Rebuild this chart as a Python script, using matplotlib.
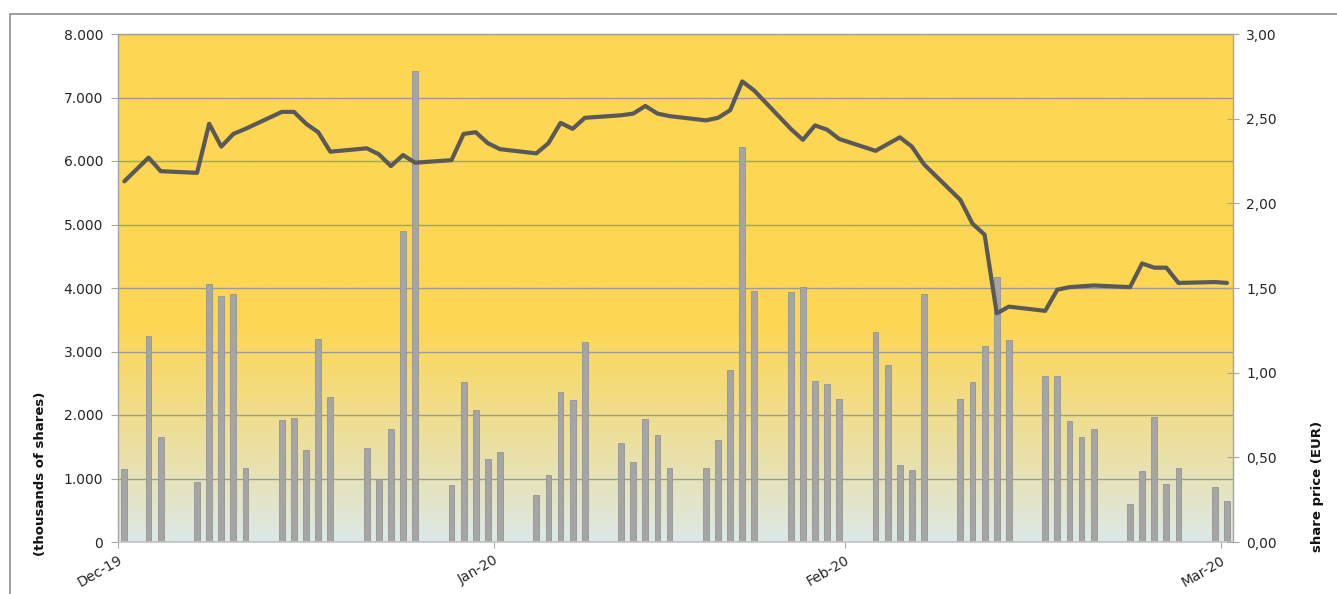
import numpy as np
import matplotlib
matplotlib.use('Agg')
import matplotlib.pyplot as plt
from matplotlib.ticker import FuncFormatter, MultipleLocator, FixedLocator
from matplotlib.patches import Rectangle

# ---------------- data ----------------
trading_day = [0, 2, 3, 6, 7, 8, 9, 10, 13, 14, 15, 16, 17, 20, 21, 22, 23, 24,
               27, 28, 29, 30, 31, 34, 35, 36, 37, 38, 41, 42, 43, 44, 45,
               48, 49, 50, 51, 52, 55, 56, 57, 58, 59, 62, 63, 64, 65, 66,
               69, 70, 71, 72, 73, 76, 77, 78, 79, 80, 83, 84, 85, 86, 87, 90, 91]

volume_k = [1150, 3250, 1660, 940, 4070, 3870, 3900, 1160, 1920, 1950, 1450, 3200, 2290,
            1485, 1000, 1775, 4900, 7420,
            900, 2525, 2075, 1300, 1420, 740, 1055, 2360, 2240, 3145,
            1565, 1260, 1935, 1690, 1160,
            1170, 1600, 2710, 6225, 3960, 3940, 4010, 2535, 2490, 2250,
            3305, 2790, 1210, 1135, 3900,
            2250, 2515, 3090, 4180, 3180, 2615, 2615, 1910, 1660, 1785,
            595, 1115, 1970, 920, 1160, 865, 650]

share_price = [2.13, 2.27, 2.19, 2.18, 2.47, 2.335, 2.41, 2.44, 2.54, 2.54, 2.47, 2.42, 2.305,
               2.325, 2.29, 2.22, 2.285, 2.24,
               2.255, 2.41, 2.42, 2.355, 2.32, 2.295, 2.355, 2.475, 2.44, 2.505,
               2.52, 2.53, 2.575, 2.53, 2.515,
               2.49, 2.505, 2.55, 2.72, 2.665, 2.44, 2.375, 2.46, 2.435, 2.38,
               2.31, 2.35, 2.39, 2.335, 2.23,
               2.02, 1.88, 1.815, 1.35, 1.39, 1.365, 1.49, 1.505, 1.51, 1.515,
               1.505, 1.645, 1.62, 1.62, 1.53, 1.535, 1.53]

month_tick_pos = [-0.5, 30.5, 59.5, 90.5]
month_labels = ['Dec-19', 'Jan-20', 'Feb-20', 'Mar-20']

# ---------------- figure ----------------
plt.rcParams['font.family'] = ['DejaVu Sans']
W, H = 1337, 594
fig = plt.figure(figsize=(W / 100, H / 100), dpi=100)
fig.patch.set_facecolor('white')

L, R, T, B = 118.3, 1233, 34, 542
ax = fig.add_axes([L / W, 1 - B / H, (R - L) / W, (B - T) / H])

# gradient background
yellow = np.array([253, 214, 83]) / 255
pale = np.array([219, 233, 234]) / 255
n = 400
t = np.linspace(0, 1, n)  # 0 bottom -> 1 top
frac = np.clip(t / 0.43, 0, 1) ** 0.9
cols = pale[None, :] * (1 - frac[:, None]) + yellow[None, :] * frac[:, None]
img = cols[::-1][:, None, :]
ax.imshow(img, extent=[0, 1, 0, 1], transform=ax.transAxes, aspect='auto',
          zorder=0, interpolation='bilinear')
ax.patch.set_visible(False)

ax.bar(trading_day, volume_k, width=0.48, color='#A5A5A5', edgecolor='#949494',
       linewidth=0.6, zorder=2)

ax.set_xlim(-0.5, 91.5)
ax.set_ylim(0, 8000)
ax.yaxis.set_major_locator(MultipleLocator(1000))
ax.yaxis.set_major_formatter(FuncFormatter(lambda v, p: f"{int(round(v)):,}".replace(',', '.')))
ax.yaxis.grid(True, color='#9B9B9B', linewidth=1.0)
ax.set_axisbelow(True)

ax.xaxis.set_major_locator(FixedLocator(month_tick_pos))
ax.set_xticklabels(month_labels, rotation=30, ha='right', rotation_mode='anchor')
ax.tick_params(axis='x', direction='out', length=4, color='#A6A6A6', pad=4,
               labelsize=10, labelcolor='#262626')
ax.tick_params(axis='y', direction='out', length=5, color='#A6A6A6', pad=6,
               labelsize=10, labelcolor='#262626')

for s in ['top', 'left', 'right']:
    ax.spines[s].set_color('#A3A3A3')
    ax.spines[s].set_linewidth(1.0)
ax.spines['bottom'].set_color('#C4C4C4')
ax.spines['bottom'].set_linewidth(1.2)

# price line
ax2 = ax.twinx()
ax2.plot(trading_day, share_price, color='#595959', linewidth=3.0,
         solid_joinstyle='round', solid_capstyle='round', zorder=3)
ax2.set_ylim(0, 3)
ax2.yaxis.set_major_locator(MultipleLocator(0.5))
ax2.yaxis.set_major_formatter(FuncFormatter(lambda v, p: f"{v:.2f}".replace('.', ',')))
ax2.tick_params(axis='y', direction='inout', length=9, color='#A6A6A6', pad=5,
                labelsize=10, labelcolor='#262626')
for s in ['top', 'left', 'right', 'bottom']:
    ax2.spines[s].set_visible(False)
ax2.set_xlim(-0.5, 91.5)

# axis titles
fig.text(41 / W, 1 - 474 / H, '(thousands of shares)', rotation=90, fontweight='bold',
         ha='center', va='center', fontsize=9.5, color='#111111')
fig.text(1317 / W, 1 - 486 / H, 'share price (EUR)', rotation=90, fontweight='bold',
         ha='center', va='center', fontsize=9.5, color='#111111')

# outer chart frame (cropped at right and bottom)
fig.add_artist(Rectangle((10 / W, -0.2), 2, 1 - 14 / H + 0.2, transform=fig.transFigure,
                         fill=False, edgecolor='#8F8F8F', linewidth=1.2))

fig.savefig('out.png', dpi=100)
